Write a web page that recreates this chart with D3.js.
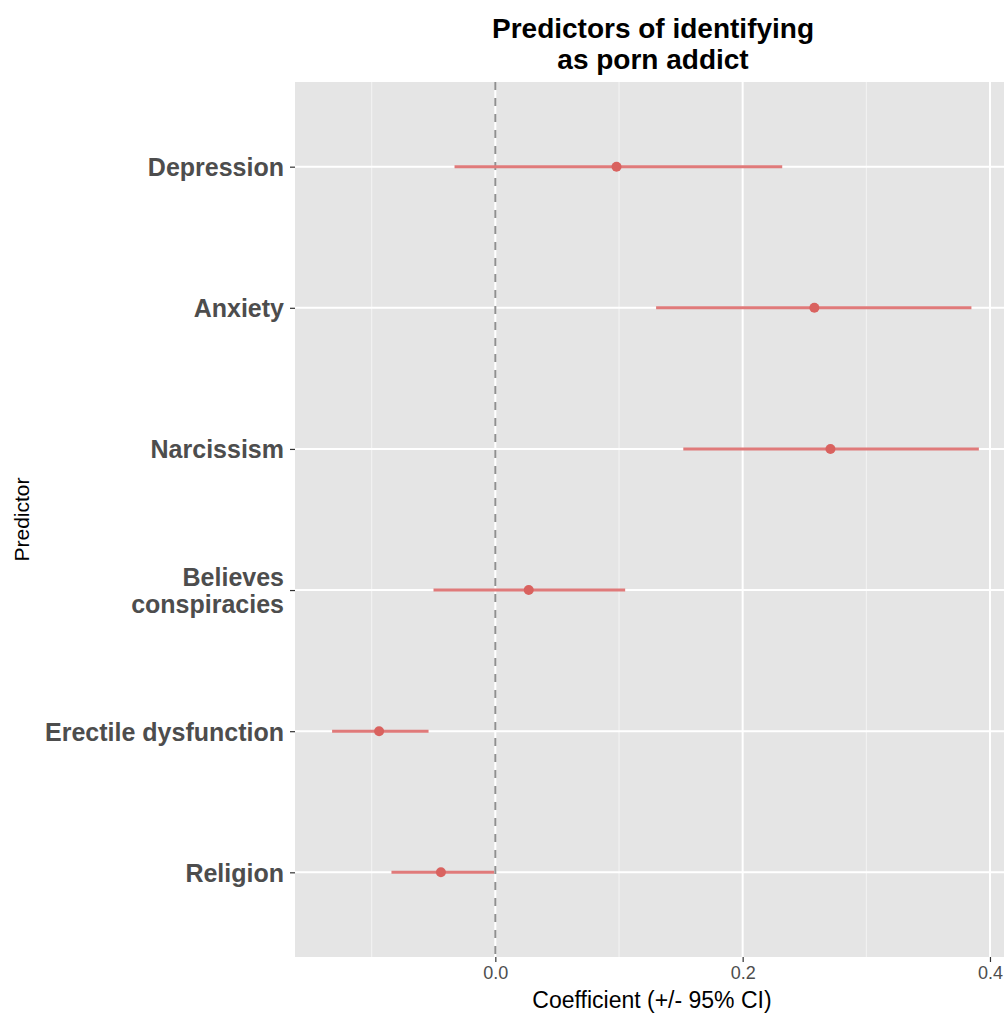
<!DOCTYPE html>
<html>
<head>
<meta charset="utf-8">
<script src="https://cdn.jsdelivr.net/npm/d3@7"></script>
<style>
  html, body { margin: 0; padding: 0; background: #ffffff; overflow: hidden; }
  svg { display: block; font-family: "Liberation Sans", Arial, Helvetica, sans-serif; }
</style>
</head>
<body>
<svg id="chart" width="1004" height="1015"></svg>
<script>
// Predictor names (top to bottom) and regression coefficients with 95% CI
const predictors = ["Depression", "Anxiety", "Narcissism", "Believes\nconspiracies", "Erectile dysfunction", "Religion"];
const estimates  = [0.098, 0.258, 0.271, 0.027, -0.094, -0.044];
const ciLower    = [-0.033, 0.130, 0.152, -0.050, -0.132, -0.084];
const ciUpper    = [0.232, 0.385, 0.391, 0.105, -0.054, -0.001];
const xMajorTicks = [0.0, 0.2, 0.4];
const xMinorTicks = [-0.1, 0.1, 0.3];
const xTickLabels = ["0.0", "0.2", "0.4"];

const rows = predictors.map((p, i) => ({ name: p, est: estimates[i], lo: ciLower[i], hi: ciUpper[i] }));

const svg = d3.select("#chart");
const panel = { left: 295, right: 1011, top: 82, bottom: 957 };

const x = d3.scaleLinear().domain([-0.162, 0.417]).range([panel.left, panel.right]);
const y = d3.scalePoint().domain(predictors).range([panel.top, panel.bottom]).padding(0.6);

// panel background
svg.append("rect")
  .attr("x", panel.left).attr("y", panel.top)
  .attr("width", panel.right - panel.left).attr("height", panel.bottom - panel.top)
  .attr("fill", "#e5e5e5");

const grid = svg.append("g");
// minor vertical gridlines
grid.selectAll("line.minor").data(xMinorTicks).join("line")
  .attr("class", "minor")
  .attr("x1", d => x(d)).attr("x2", d => x(d))
  .attr("y1", panel.top).attr("y2", panel.bottom)
  .attr("stroke", "#f4f4f4").attr("stroke-width", 1);
// major vertical gridlines
grid.selectAll("line.majorx").data(xMajorTicks).join("line")
  .attr("class", "majorx")
  .attr("x1", d => x(d)).attr("x2", d => x(d))
  .attr("y1", panel.top).attr("y2", panel.bottom)
  .attr("stroke", "#ffffff").attr("stroke-width", 2);
// major horizontal gridlines at each predictor
grid.selectAll("line.majory").data(predictors).join("line")
  .attr("class", "majory")
  .attr("x1", panel.left).attr("x2", panel.right)
  .attr("y1", d => y(d)).attr("y2", d => y(d))
  .attr("stroke", "#ffffff").attr("stroke-width", 2);

// reference line at zero
svg.append("line")
  .attr("x1", x(0)).attr("x2", x(0))
  .attr("y1", panel.top).attr("y2", panel.bottom)
  .attr("stroke", "#8f8f8f").attr("stroke-width", 2)
  .attr("stroke-dasharray", "8,8");

// confidence intervals
svg.append("g").selectAll("line").data(rows).join("line")
  .attr("x1", d => x(d.lo)).attr("x2", d => x(d.hi))
  .attr("y1", d => y(d.name)).attr("y2", d => y(d.name))
  .attr("stroke", "#e07a7a").attr("stroke-width", 3);

// point estimates
svg.append("g").selectAll("circle").data(rows).join("circle")
  .attr("cx", d => x(d.est)).attr("cy", d => y(d.name))
  .attr("r", 5).attr("fill", "#d9625f");

// x axis
const xAxis = svg.append("g")
  .attr("transform", `translate(0,${panel.bottom})`)
  .call(d3.axisBottom(x).tickValues(xMajorTicks).tickFormat((d, i) => xTickLabels[i]).tickSize(5).tickPadding(4));
xAxis.select(".domain").remove();
xAxis.selectAll(".tick line").attr("stroke", "#333333").attr("stroke-width", 1.2);
xAxis.selectAll(".tick text")
  .attr("fill", "#4d4d4d").attr("font-size", 18)
  .attr("font-family", "Liberation Sans, Arial, sans-serif");

// y axis
const yAxis = svg.append("g")
  .attr("transform", `translate(${panel.left},0)`)
  .call(d3.axisLeft(y).tickSize(5).tickPadding(6).tickFormat(""));
yAxis.select(".domain").remove();
yAxis.selectAll(".tick line").attr("stroke", "#333333").attr("stroke-width", 1.2);
yAxis.selectAll(".tick").each(function(d) {
  const lines = d.split("\n");
  const t = d3.select(this).append("text")
    .attr("x", -11)
    .attr("text-anchor", "end")
    .attr("fill", "#4d4d4d")
    .attr("font-size", 25)
    .attr("font-weight", "bold")
    .attr("font-family", "Liberation Sans, Arial, sans-serif");
  const lh = 27;
  lines.forEach((ln, i) => {
    t.append("tspan")
      .attr("x", -11)
      .attr("y", (i - (lines.length - 1) / 2) * lh + 9)
      .text(ln);
  });
});

// axis titles
svg.append("text")
  .attr("x", (panel.left + panel.right) / 2 - 1).attr("y", 1008)
  .attr("text-anchor", "middle").attr("font-size", 23).attr("fill", "#000")
  .text("Coefficient (+/- 95% CI)");

svg.append("text")
  .attr("transform", `translate(29,${(panel.top + panel.bottom) / 2}) rotate(-90)`)
  .attr("text-anchor", "middle").attr("font-size", 21).attr("fill", "#000")
  .text("Predictor");

// chart title
const title = svg.append("text")
  .attr("text-anchor", "middle").attr("font-size", 28).attr("font-weight", "bold").attr("fill", "#000");
["Predictors of identifying", "as porn addict"].forEach((ln, i) => {
  title.append("tspan").attr("x", (panel.left + panel.right) / 2).attr("y", 38 + i * 31).text(ln);
});
</script>
</body>
</html>
